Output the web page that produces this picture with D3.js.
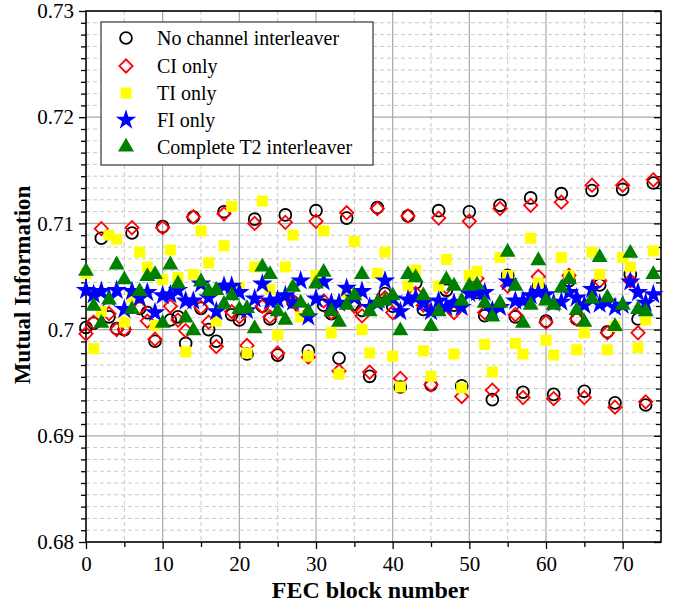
<!DOCTYPE html>
<html><head><meta charset="utf-8">
<script src="https://cdn.jsdelivr.net/npm/d3@7"></script>
<style>body{margin:0;background:#fff}svg{display:block}</style>
</head><body><svg id="c" width="680" height="606"></svg>
<script>
const blocks = [0,1,2,3,4,5,6,7,8,9,10,11,12,13,14,15,16,17,18,19,20,21,22,23,24,25,26,27,28,29,30,31,32,33,34,35,36,37,38,39,40,41,42,43,44,45,46,47,48,49,50,51,52,53,54,55,56,57,58,59,60,61,62,63,64,65,66,67,68,69,70,71,72,73,74];
const noInterleaver = [0.7002,0.7006,0.7086,0.7012,0.7001,0.7000,0.7091,0.7020,0.7016,0.6989,0.7097,0.7009,0.7012,0.6987,0.7106,0.7020,0.7000,0.6989,0.7111,0.7014,0.7009,0.6977,0.7104,0.7022,0.7010,0.6976,0.7108,0.7026,0.7021,0.6980,0.7112,0.7023,0.7015,0.6973,0.7105,0.7024,0.7018,0.6956,0.7115,0.7034,0.7022,0.6946,0.7107,0.7044,0.7019,0.6948,0.7112,0.7037,0.7023,0.6947,0.7111,0.7035,0.7013,0.6934,0.7117,0.7051,0.7012,0.6941,0.7124,0.7041,0.7008,0.6939,0.7128,0.7046,0.7010,0.6942,0.7131,0.7042,0.6998,0.6931,0.7132,0.7052,0.7010,0.6929,0.7138];
const ciOnly = [0.6996,0.7007,0.7095,0.7015,0.7000,0.7000,0.7096,0.7021,0.7008,0.6991,0.7096,0.7022,0.7009,0.6999,0.7106,0.7021,0.7007,0.6984,0.7109,0.7017,0.7012,0.6985,0.7100,0.7022,0.7012,0.6978,0.7101,0.7027,0.7021,0.6974,0.7102,0.7027,0.7016,0.6961,0.7110,0.7022,0.7013,0.6960,0.7114,0.7030,0.7016,0.6954,0.7107,0.7034,0.7023,0.6948,0.7105,0.7040,0.7016,0.6937,0.7102,0.7048,0.7016,0.6943,0.7114,0.7041,0.7014,0.6936,0.7117,0.7050,0.7007,0.6935,0.7120,0.7051,0.7010,0.6936,0.7136,0.7046,0.6997,0.6927,0.7136,0.7046,0.6997,0.6932,0.7141];
const tiOnly = [0.7053,0.6982,0.7017,0.7089,0.7085,0.7007,0.7030,0.7073,0.7059,0.7004,0.7047,0.7075,0.7049,0.6979,0.7052,0.7093,0.7063,0.7008,0.7079,0.7116,0.7040,0.6978,0.7059,0.7121,0.7038,0.6995,0.7059,0.7089,0.7012,0.6975,0.7051,0.7093,0.6997,0.6958,0.7035,0.7083,0.7000,0.6978,0.7053,0.7073,0.6975,0.6946,0.7041,0.7056,0.6980,0.6956,0.7041,0.7066,0.6977,0.6945,0.7051,0.7055,0.6986,0.6960,0.7068,0.7051,0.6987,0.6977,0.7086,0.7044,0.6990,0.6976,0.7068,0.7051,0.6981,0.6997,0.7073,0.7052,0.6981,0.7003,0.7068,0.7059,0.6983,0.7009,0.7074];
const fiOnly = [0.7037,0.7033,0.7036,0.7030,0.7037,0.7019,0.7036,0.7030,0.7035,0.7016,0.7032,0.7033,0.7037,0.7027,0.7027,0.7043,0.7030,0.7017,0.7041,0.7041,0.7035,0.7018,0.7029,0.7043,0.7027,0.7028,0.7032,0.7026,0.7046,0.7012,0.7029,0.7045,0.7025,0.7025,0.7039,0.7030,0.7036,0.7021,0.7025,0.7046,0.7029,0.7017,0.7028,0.7030,0.7025,0.7017,0.7027,0.7021,0.7025,0.7021,0.7034,0.7035,0.7035,0.7018,0.7021,0.7045,0.7027,0.7027,0.7032,0.7035,0.7033,0.7025,0.7026,0.7035,0.7030,0.7023,0.7038,0.7024,0.7026,0.7021,0.7023,0.7045,0.7035,0.7025,0.7033];
const completeT2 = [0.7055,0.7022,0.7006,0.7028,0.7061,0.7047,0.7019,0.7036,0.7050,0.7052,0.7006,0.7061,0.7043,0.7011,0.6999,0.7045,0.7036,0.7037,0.7024,0.7032,0.7019,0.7020,0.7001,0.7059,0.7052,0.7017,0.7009,0.7040,0.7025,0.7017,0.7043,0.7054,0.7017,0.7007,0.7023,0.7032,0.7052,0.7017,0.7025,0.7027,0.7032,0.6999,0.7052,0.7049,0.7032,0.7003,0.7017,0.7047,0.7041,0.7027,0.7041,0.7042,0.7025,0.7012,0.7025,0.7073,0.7041,0.7006,0.7023,0.7065,0.7027,0.7023,0.7039,0.7047,0.7018,0.7007,0.7029,0.7068,0.7030,0.7003,0.7023,0.7072,0.7019,0.7017,0.7052];
const seriesNames = ["No channel interleaver","CI only","TI only","FI only","Complete T2 interleaver"];
const xTicks = [0,10,20,30,40,50,60,70];
const yTicks = [0.68,0.69,0.70,0.71,0.72,0.73];
const yTickLabels = ["0.68","0.69","0.7","0.71","0.72","0.73"];

const svg = d3.select("#c");
const L = 86, R = 661, T = 11, B = 542;
const x = d3.scaleLinear().domain([0,75]).range([L,R]);
const y = d3.scaleLinear().domain([0.68,0.73]).range([B,T]);
const font = "'Liberation Serif','Times New Roman',serif";

// minor grid
const xMinor = d3.range(5,75,10);
const yMinor = [];
for (let k=0;k<5;k++) for (let j=1;j<9;j++) yMinor.push(0.68 + k*0.01 + j*0.01/9);
const g = svg.append("g");
g.selectAll(".xm").data(xMinor).enter().append("line")
 .attr("x1",d=>x(d)).attr("x2",d=>x(d)).attr("y1",T).attr("y2",B)
 .attr("stroke","#c8c8c8").attr("stroke-dasharray","4,3").attr("stroke-width",1);
g.selectAll(".ym").data(yMinor).enter().append("line")
 .attr("x1",L).attr("x2",R).attr("y1",d=>y(d)).attr("y2",d=>y(d))
 .attr("stroke","#c8c8c8").attr("stroke-dasharray","4,3").attr("stroke-width",1);
g.selectAll(".xM").data(xTicks.slice(1)).enter().append("line")
 .attr("x1",d=>x(d)).attr("x2",d=>x(d)).attr("y1",T).attr("y2",B)
 .attr("stroke","#a8a8a8").attr("stroke-width",1.2);
g.selectAll(".yM").data(yTicks.slice(1,-1)).enter().append("line")
 .attr("x1",L).attr("x2",R).attr("y1",d=>y(d)).attr("y2",d=>y(d))
 .attr("stroke","#a8a8a8").attr("stroke-width",1.2);

// axes
const xAxis = d3.axisBottom(x).tickValues(xTicks).tickSize(7).tickPadding(7).tickFormat(d3.format("d"));
const xa = svg.append("g").attr("transform",`translate(0,${B})`).call(xAxis);
const xAxisMinor = d3.axisBottom(x).tickValues(xMinor).tickSize(5).tickFormat("");
svg.append("g").attr("transform",`translate(0,${B})`).call(xAxisMinor).select(".domain").remove();
const yAxis = d3.axisLeft(y).tickValues(yTicks).tickSize(7).tickPadding(5).tickFormat((d,i)=>yTickLabels[i]);
const ya = svg.append("g").attr("transform",`translate(${L},0)`).call(yAxis);
svg.append("g").attr("transform",`translate(${L},0)`).call(d3.axisLeft(y).tickValues(yMinor).tickSize(5).tickFormat("")).select(".domain").remove();
svg.append("g").attr("transform",`translate(${R},0)`).call(d3.axisLeft(y).tickValues(yMinor).tickSize(5).tickFormat("")).select(".domain").remove();
svg.append("g").attr("transform",`translate(${R},0)`).call(d3.axisLeft(y).tickValues(yTicks).tickSize(7).tickFormat("")).select(".domain").remove();
[xa,ya].forEach(a=>{
  a.selectAll("text").attr("font-family",font).attr("font-size",21).attr("fill","#000");
  a.select(".domain").remove();
});
svg.selectAll(".tick line").attr("stroke","#000").attr("stroke-width",1.3);
svg.append("rect").attr("x",L).attr("y",T).attr("width",R-L).attr("height",B-T)
 .attr("fill","none").attr("stroke","#000").attr("stroke-width",1.6);

// titles
svg.append("text").attr("x",(L+R)/2-3).attr("y",598).attr("text-anchor","middle")
 .attr("font-family",font).attr("font-weight","bold").attr("font-size",24).text("FEC block number");
svg.append("text").attr("transform","translate(30,285) rotate(-90)").attr("text-anchor","middle")
 .attr("font-family",font).attr("font-weight","bold").attr("font-size",23).text("Mutual Information");

// markers
const plot = svg.append("g");
const shapes = [
  {data:noInterleaver, sym:d3.symbolCircle, size:110, fill:"none", stroke:"#000", rot:0},
  {data:ciOnly, sym:d3.symbolSquare, size:88, fill:"none", stroke:"#ff0000", rot:45},
  {data:tiOnly, sym:d3.symbolSquare, size:121, fill:"#ffff00", stroke:"none", rot:0},
  {data:fiOnly, sym:d3.symbolStar, size:130, fill:"#0000ff", stroke:"none", rot:0},
  {data:completeT2, sym:d3.symbolTriangle, size:110, fill:"#008000", stroke:"none", rot:0}
];
shapes.forEach(s=>{
  plot.append("g").selectAll("path").data(blocks).enter().append("path")
   .attr("d", d3.symbol().type(s.sym).size(s.size)())
   .attr("transform",(d,i)=>`translate(${x(d)},${y(s.data[i])}) rotate(${s.rot})`)
   .attr("fill",s.fill).attr("stroke",s.stroke).attr("stroke-width",1.8);
});

// legend
const lg = svg.append("g");
lg.append("rect").attr("x",101).attr("y",22).attr("width",272).attr("height",143)
 .attr("fill","#fff").attr("stroke","#444").attr("stroke-width",1.3);
const rowY = [38,66,93,120,147];
shapes.forEach((s,i)=>{
  lg.append("path").attr("d", d3.symbol().type(s.sym).size(s.size)())
   .attr("transform",`translate(126,${rowY[i]}) rotate(${s.rot})`)
   .attr("fill",s.fill).attr("stroke",s.stroke).attr("stroke-width",1.8);
  lg.append("text").attr("x",157).attr("y",rowY[i]).attr("dy","0.35em")
   .attr("font-family",font).attr("font-size",20).text(seriesNames[i]);
});
</script>
</body></html>
